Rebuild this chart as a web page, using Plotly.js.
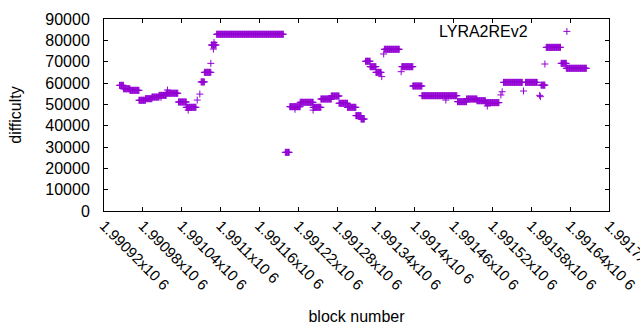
<!DOCTYPE html>
<html>
<head>
<meta charset="utf-8">
<script src="https://cdn.plot.ly/plotly-3.0.1.min.js"></script>
<style>html,body{margin:0;padding:0;background:#fff;}#chart{width:640px;height:330px;}</style>
</head>
<body>
<div id="chart"></div>
<script>
// Runs of blocks sharing one difficulty value (start block, end block, difficulty)
const runStart = [1990944,1990950,1990960,1990974,1990984,1990994,1991005,1991008,1991016,1991018,1991035,1991047,1991050,1991064,1991068,1991070,1991075,1991085,1991086,1991090,1991089,1991094,1991200,1991207,1991215,1991223,1991243,1991243,1991255,1991271,1991283,1991296,1991309,1991317,1991324,1991331,1991340,1991349,1991352,1991353,1991379,1991380,1991397,1991411,1991448,1991466,1991480,1991496,1991509,1991512,1991533,1991535,1991537,1991568,1991571,1991593,1991594,1991595,1991601,1991603,1991626,1991634];
const runEnd   = [1990950,1990960,1990974,1990984,1990994,1991005,1991016,1991008,1991034,1991018,1991047,1991062,1991050,1991064,1991068,1991075,1991085,1991085,1991093,1991090,1991089,1991197,1991206,1991223,1991215,1991243,1991243,1991255,1991271,1991283,1991296,1991309,1991317,1991322,1991331,1991340,1991348,1991349,1991352,1991376,1991379,1991397,1991411,1991465,1991448,1991480,1991496,1991509,1991530,1991512,1991533,1991535,1991566,1991568,1991589,1991593,1991594,1991601,1991601,1991625,1991634,1991665];
const runValue = [58900,57300,56560,51900,52650,53400,54200,53300,55200,56700,51100,48600,47300,52000,54800,60500,65000,69200,77800,79000,75900,82850,27500,48900,47700,50950,47300,48600,52500,53900,50500,48600,44700,43100,70200,67650,65000,63000,73600,75800,65300,67650,58600,54050,52000,51250,52500,51700,50800,49200,54400,55900,60300,56250,60300,54200,53600,59000,68900,76700,69200,66900];

const seriesName = 'LYRA2REv2';
const xTickVals = [1990920,1990980,1991040,1991100,1991160,1991220,1991280,1991340,1991400,1991460,1991520,1991580,1991640,1991700];
const xTickLabels = ["1.99092x10 6","1.99098x10 6","1.99104x10 6","1.9911x10 6","1.99116x10 6","1.99122x10 6","1.99128x10 6","1.99134x10 6","1.9914x10 6","1.99146x10 6","1.99152x10 6","1.99158x10 6","1.99164x10 6","1.9917x10 6"];
const yTickVals = [0,10000,20000,30000,40000,50000,60000,70000,80000,90000];

const blocks = [], diffs = [];
for (let i = 0; i < runStart.length; i++) {
  for (let b = runStart[i]; b <= runEnd[i]; b++) { blocks.push(b); diffs.push(runValue[i]); }
}

const FONT = 'Liberation Sans, Arial, sans-serif';
const PURPLE = '#9400d3';

const trace = {
  type: 'scatter', mode: 'markers', x: blocks, y: diffs, name: ' ',
  marker: {symbol: 'cross-thin-open', size: 5, color: PURPLE, line: {color: PURPLE, width: 1}},
  hoverinfo: 'skip', showlegend: true
};

const axisCommon = {
  showline: true, linecolor: '#000', linewidth: 1, mirror: 'allticks',
  ticks: 'inside', ticklen: 4, tickcolor: '#000', tickwidth: 1,
  showgrid: false, zeroline: false, tickfont: {family: FONT, size: 16, color: '#000'},
  tickmode: 'array'
};

const layout = {
  width: 640, height: 330,
  margin: {l: 104, r: 31, t: 19, b: 119, pad: 0},
  paper_bgcolor: '#fff', plot_bgcolor: '#fff',
  font: {family: FONT, size: 16, color: '#000'},
  xaxis: Object.assign({}, axisCommon, {
    range: [1990920, 1991700], tickvals: xTickVals, ticktext: xTickLabels, tickangle: 45,
    tickfont: {family: FONT, size: 15, color: '#000'},
    ticklabelstandoff: -1, ticklabeloverflow: 'allow',
    title: {text: 'block number', font: {family: FONT, size: 16, color: '#000'}, standoff: 18}
  }),
  yaxis: Object.assign({}, axisCommon, {
    range: [0, 90000], tickvals: yTickVals, ticktext: yTickVals.map(String),
    ticklabelstandoff: 10,
    title: {text: 'difficulty', font: {family: FONT, size: 16, color: '#000'}, standoff: 19}
  }),
  showlegend: true,
  legend: {
    x: 0.877, y: 0.935, xanchor: 'left', yanchor: 'middle',
    bgcolor: 'rgba(0,0,0,0)', borderwidth: 0, itemwidth: 30,
    font: {family: FONT, size: 16, color: '#000'}
  },
  annotations: [{
    text: seriesName, xref: 'paper', yref: 'paper', x: 0.844, y: 0.9375,
    xanchor: 'right', yanchor: 'middle', showarrow: false,
    font: {family: FONT, size: 16, color: '#000'}
  }]
};

Plotly.newPlot('chart', [trace], layout, {staticPlot: true, displayModeBar: false});
</script>
</body>
</html>
